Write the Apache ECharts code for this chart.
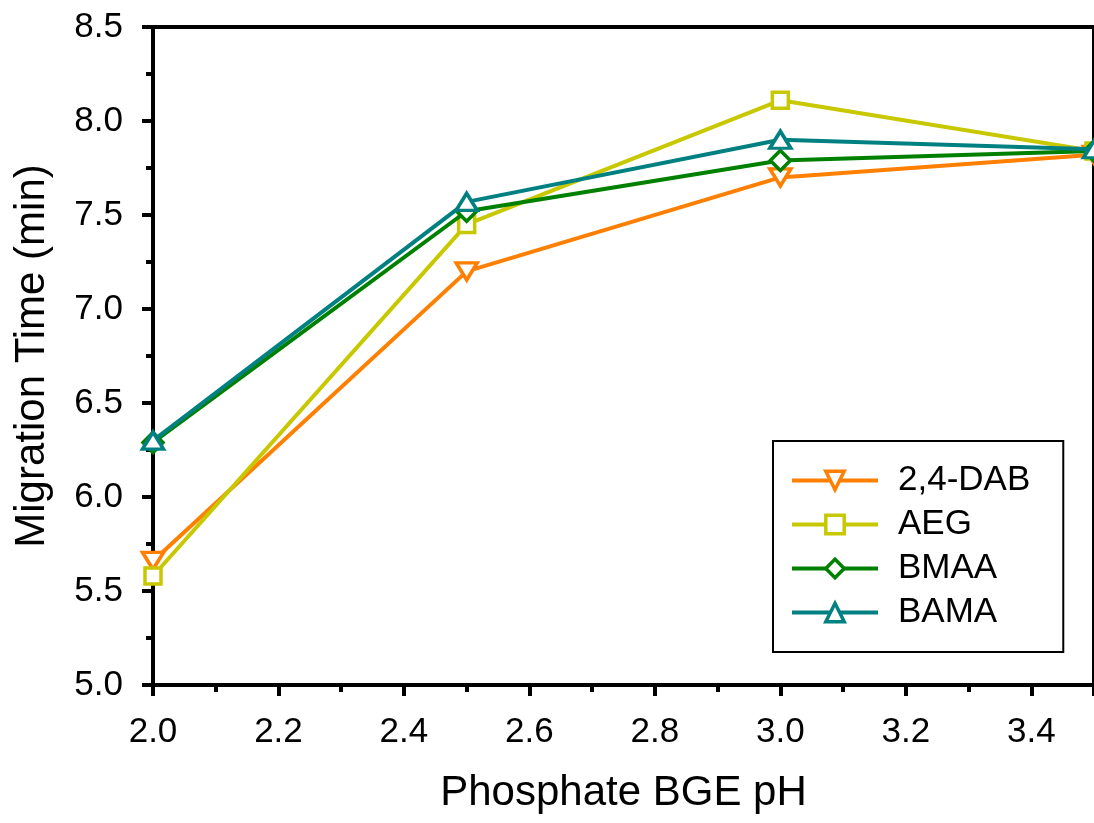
<!DOCTYPE html>
<html>
<head>
<meta charset="utf-8">
<script src="https://cdn.jsdelivr.net/npm/echarts@6/dist/echarts.min.js"></script>
<style>
html,body{margin:0;padding:0;background:#fff;}
#chart{width:1094px;height:823px;}
</style>
</head>
<body>
<div id="chart"></div>
<script>
const phValues = [2.0, 2.5, 3.0, 3.5];
const seriesNames = ['2,4-DAB', 'AEG', 'BMAA', 'BAMA'];
const dab24 = [5.66, 7.20, 7.70, 7.82];
const aeg = [5.58, 7.45, 8.11, 7.84];
const bmaa = [6.29, 7.52, 7.79, 7.84];
const bama = [6.30, 7.57, 7.90, 7.85];
const xTitle = 'Phosphate BGE pH';
const yTitle = 'Migration Time (min)';

const colors = ['#FF7F00', '#C8C800', '#008000', '#008080'];
const symbols = ['triangle', 'rect', 'diamond', 'triangle'];
const rotations = [180, 0, 0, 0];
const sizes = [[21, 17], 16, [20, 20], [21, 17]];
const allData = [dab24, aeg, bmaa, bama];
const FONT = '"Liberation Sans", Arial, sans-serif';

const series = seriesNames.map((name, i) => ({
  name: name,
  type: 'line',
  data: phValues.map((x, j) => [x, allData[i][j]]),
  symbol: symbols[i],
  symbolRotate: rotations[i],
  symbolSize: sizes[i],
  showAllSymbol: true,
  clip: false,
  lineStyle: { color: colors[i], width: 4 },
  itemStyle: { color: '#fff', borderColor: colors[i], borderWidth: 3.5 },
  emphasis: { disabled: true },
  z: 2 + i
}));

const chart = echarts.init(document.getElementById('chart'), null, { renderer: 'canvas' });
chart.setOption({
  animation: false,
  backgroundColor: '#fff',
  textStyle: { fontFamily: FONT },
  grid: {
    left: 153, top: 27, right: -3, bottom: 138,
    show: true, borderColor: '#000', borderWidth: 4, backgroundColor: 'transparent'
  },
  legend: {
    orient: 'vertical',
    left: 773, top: 441,
    itemWidth: 86, itemHeight: 23, itemGap: 9,
    padding: [22, 33, 22, 17],
    borderColor: '#000', borderWidth: 2,
    backgroundColor: '#fff',
    selectedMode: false,
    itemStyle: { borderWidth: 3.5 },
    lineStyle: { width: 4 },
    textStyle: { fontSize: 35, color: '#000', fontFamily: FONT, padding: [0, 0, 0, 15] },
    data: seriesNames
  },
  xAxis: {
    type: 'value',
    min: 2.0, max: 3.5, interval: 0.2,
    name: xTitle, nameLocation: 'middle', nameGap: 87,
    nameTextStyle: { fontSize: 42, color: '#000', fontFamily: FONT },
    axisLine: { show: true, lineStyle: { color: '#000', width: 4 } },
    axisTick: { show: true, length: 11, lineStyle: { color: '#000', width: 4 } },
    minorTick: { show: true, splitNumber: 2, length: 7, lineStyle: { color: '#000', width: 4 } },
    splitLine: { show: false },
    axisLabel: {
      fontSize: 35, color: '#000', margin: 30, fontFamily: FONT,
      showMaxLabel: false,
      formatter: v => v.toFixed(1)
    }
  },
  yAxis: {
    type: 'value',
    min: 5.0, max: 8.5, interval: 0.5,
    name: yTitle, nameLocation: 'middle', nameGap: 100,
    nameTextStyle: { fontSize: 42, color: '#000', fontFamily: FONT },
    axisLine: { show: true, lineStyle: { color: '#000', width: 4 } },
    axisTick: { show: true, length: 11, lineStyle: { color: '#000', width: 4 } },
    minorTick: { show: true, splitNumber: 2, length: 7, lineStyle: { color: '#000', width: 4 } },
    splitLine: { show: false },
    axisLabel: {
      fontSize: 35, color: '#000', margin: 30, fontFamily: FONT,
      formatter: v => v.toFixed(1)
    }
  },
  series: series
});
</script>
</body>
</html>
